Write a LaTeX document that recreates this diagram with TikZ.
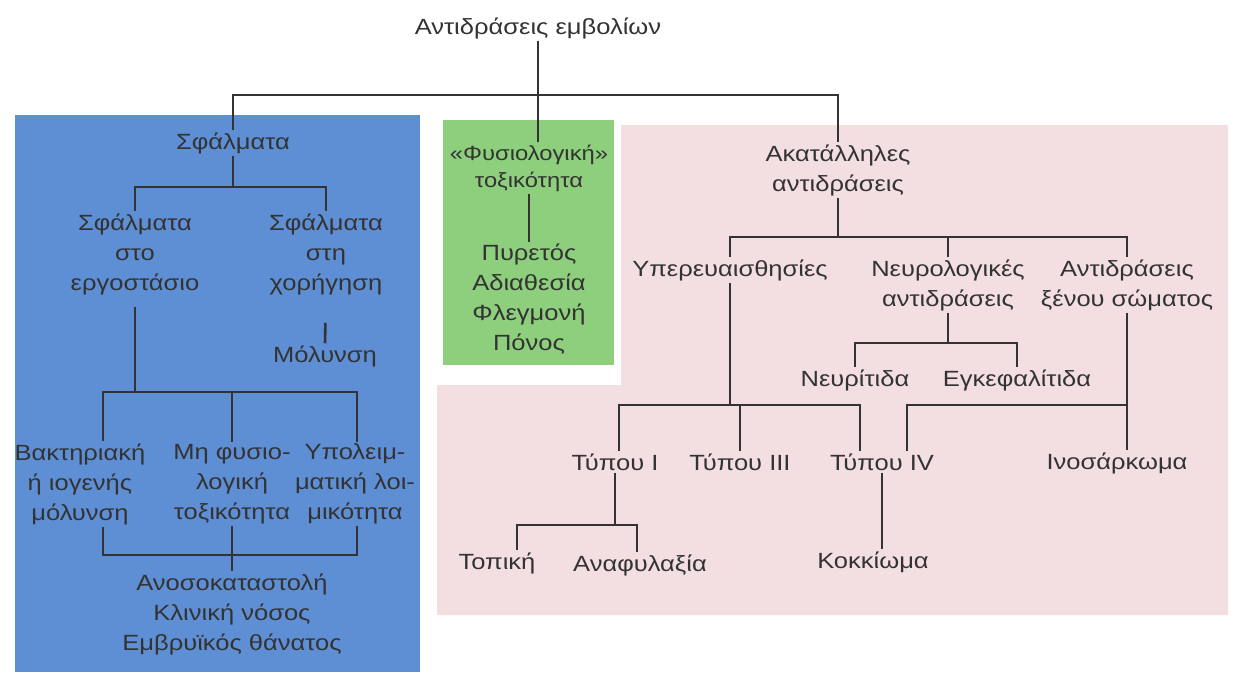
\documentclass[tikz,border=0pt]{standalone}
\usepackage{fontspec}
\setmainfont[FakeStretch=1.16]{Liberation Sans}
\definecolor{bluebg}{HTML}{5E8ED4}
\definecolor{greenbg}{HTML}{8DCF7C}
\definecolor{pinkbg}{HTML}{F3DFE2}
\definecolor{ink}{HTML}{333333}
\begin{document}
\begin{tikzpicture}[x=1pt,y=-1pt,
  lbl/.style={font=\fontsize{22}{30}\selectfont, align=center, inner sep=2pt, text=ink},
  conn/.style={draw=ink, line width=2.6pt},
  thin/.style={draw=ink, line width=2pt}]
\useasboundingbox (0,0) rectangle (1235,689);
\fill[white] (0,0) rectangle (1235,689);
% backgrounds
\fill[pinkbg] (621,125) -- (1228,125) -- (1228,615) -- (437,615) -- (437,385) -- (621,385) -- cycle;
\fill[bluebg] (15,115) rectangle (420,672);
\fill[greenbg] (443,120) rectangle (614,365);
% nodes
\node[lbl] (title) at (538,28) {Αντιδράσεις εμβολίων};
\node[lbl] (sf) at (233,143) {Σφάλματα};
\node[lbl] (st) at (135,254) {Σφάλματα\\στο\\εργοστάσιο};
\node[lbl] (sx) at (326,254) {Σφάλματα\\στη\\χορήγηση};
\node[lbl] (mol) at (325,356) {Μόλυνση};
\node[lbl] (bk) at (80,484) {Βακτηριακή\\ή ιογενής\\μόλυνση};
\node[lbl] (mf) at (232,484) {Μη φυσιο-\\λογική\\τοξικότητα};
\node[lbl] (yp) at (355,484) {Υπολειμ-\\ματική λοι-\\μικότητα};
\node[lbl] (an) at (232,614) {Ανοσοκαταστολή\\Κλινική νόσος\\Εμβρυϊκός θάνατος};
\node[lbl, font=\fontsize{20.5}{27}\selectfont] (fys) at (529,168) {«Φυσιολογική»\\τοξικότητα};
\node[lbl] (pyr) at (529,299) {Πυρετός\\Αδιαθεσία\\Φλεγμονή\\Πόνος};
\node[lbl] (ak) at (838,170) {Ακατάλληλες\\αντιδράσεις};
\node[lbl] (yper) at (730,270) {Υπερευαισθησίες};
\node[lbl] (neu) at (948,285) {Νευρολογικές\\αντιδράσεις};
\node[lbl] (xen) at (1127,285) {Αντιδράσεις\\ξένου σώματος};
\node[lbl] (nr) at (855,380) {Νευρίτιδα};
\node[lbl] (en) at (1017,380) {Εγκεφαλίτιδα};
\node[lbl] (t1) at (615,462) {Τύπου I};
\node[lbl] (t3) at (740,462) {Τύπου III};
\node[lbl] (t4) at (882,462) {Τύπου IV};
\node[lbl] (ino) at (1117,463) {Ινοσάρκωμα};
\node[lbl] (top) at (497,563) {Τοπική};
\node[lbl] (ana) at (640,565) {Αναφυλαξία};
\node[lbl] (kok) at (873,562) {Κοκκίωμα};
% bar coordinates
\coordinate (tb) at (538,95);
\coordinate (b1) at (233,187);
\coordinate (b2) at (135,392);
\coordinate (b2L) at (103,392);
\coordinate (b2R) at (357,392);
\coordinate (b3L) at (103,555);
\coordinate (b3R) at (357,555);
\coordinate (p1) at (840,237);
\coordinate (p2) at (948,343);
\coordinate (p3L) at (619,405);
\coordinate (p3R) at (860,405);
\coordinate (p4L) at (907,405);
\coordinate (p5L) at (517,525);
\coordinate (p5R) at (637,525);
% connectors: top level
\draw[conn] (title.south) -- (title.south |- fys.north);
\draw[conn] (sf.north) -- (sf.north |- tb) -- (ak.north |- tb) -- (ak.north);
% blue tree
\draw[conn] (sf.south) -- (b1);
\draw[conn] (st.north) -- (st.north |- b1) -- (sx.north |- b1) -- (sx.north);
\draw[conn, shorten <=26pt] (sx.south) -- (mol.north);
\draw[conn, shorten <=10pt] (st.south) -- (b2);
\draw[conn] (b2L |- bk.north) -- (b2L) -- (b2R) -- (b2R |- yp.north);
\draw[conn] (mf.north) -- (mf.north |- b2);
\draw[conn] (b3L |- bk.south) -- (b3L) -- (b3R) -- (b3R |- yp.south);
\draw[conn] (mf.south) -- (an.north);
% green
\draw[conn] (fys.south) -- (pyr.north);
% pink tree
\draw[conn] (ak.south) -- (ak.south |- p1);
\draw[conn] (yper.north) -- (yper.north |- p1) -- (xen.north |- p1) -- (xen.north);
\draw[conn] (neu.north) -- (neu.north |- p1);
\draw[conn] (neu.south) -- (p2);
\draw[conn] (nr.north) -- (nr.north |- p2) -- (en.north |- p2) -- (en.north);
\draw[conn] (yper.south) -- (yper.south |- p3L);
\draw[conn] (p3L |- t1.north) -- (p3L) -- (p3R) -- (p3R |- t4.north);
\draw[conn] (t3.north) -- (t3.north |- p3L);
\draw[conn] (xen.south) -- (xen.south |- ino.north);
\draw[conn] (p4L |- t4.north) -- (p4L) -- (xen.south |- p4L);
\draw[thin] (t1.south) -- (t1.south |- p5L);
\draw[thin] (p5L |- top.north) -- (p5L) -- (p5R) -- (p5R |- ana.north);
\draw[thin] (t4.south) -- (t4.south |- kok.north);
\end{tikzpicture}
\end{document}
